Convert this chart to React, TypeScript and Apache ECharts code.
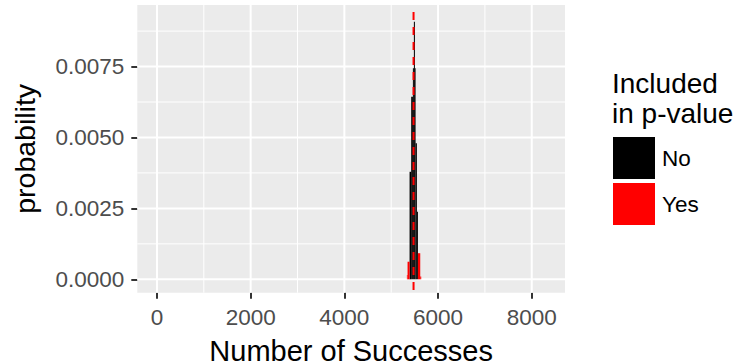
import React, { useEffect, useRef } from "react";
import * as echarts from "echarts";

// Visible bins of the null distribution (number of successes)
const binStart = [5335, 5349, 5392, 5427, 5463, 5484, 5506, 5520, 5548, 5570, 5620];
const binEnd = [5349, 5392, 5427, 5463, 5484, 5506, 5520, 5548, 5570, 5620, 5641];
const probability = [0.00015, 0.00062, 0.00379, 0.00644, 0.00744, 0.00908, 0.00744, 0.0048, 0.00238, 0.00092, 0.0001];
const includedInPValue = ["Yes", "Yes", "No", "No", "No", "No", "No", "No", "No", "Yes", "Yes"];
const referenceLine = 5477;

const xTicks = [0, 2000, 4000, 6000, 8000];
const xMinorTicks = [1000, 3000, 5000, 7000];
const yTicks = [0, 0.0025, 0.005, 0.0075];
const yMinorTicks = [0.00125, 0.00375, 0.00625, 0.00875];
const legendLabels = ["No", "Yes"];
const legendColors = ["#000000", "#FF0000"];

const X_MIN = -420;
const X_MAX = 8710;
const Y_MIN = -0.000472;
const Y_MAX = 0.00967;

const FONT = '"Liberation Sans", Arial, sans-serif';

export default function App() {
  const ref = useRef<HTMLDivElement>(null);
  useEffect(() => {
    if (!ref.current) return;
    const chart = echarts.init(ref.current, undefined, { renderer: "svg" });

    const gridData: number[][] = [];
    xTicks.forEach((v) => gridData.push([v, 0, 2]));
    xMinorTicks.forEach((v) => gridData.push([v, 0, 1]));
    yTicks.forEach((v) => gridData.push([v, 1, 2]));
    yMinorTicks.forEach((v) => gridData.push([v, 1, 1]));

    const barData = (label: string) =>
      binStart
        .map((s, i) => [s, binEnd[i], probability[i], includedInPValue[i] === label ? 1 : 0])
        .filter((d) => d[3] === 1)
        .map((d) => [d[0], d[1], d[2]]);

    const renderBar = (params: any, api: any) => {
      const p0 = api.coord([api.value(0), api.value(2)]);
      const p1 = api.coord([api.value(1), 0]);
      return {
        type: "rect",
        shape: { x: p0[0], y: p0[1], width: p1[0] - p0[0], height: p1[1] - p0[1] },
        style: { fill: api.visual("color") },
      };
    };

    chart.setOption({
      animation: false,
      grid: {
        left: 137.3,
        top: 5,
        width: 427.7,
        height: 287.7,
        show: true,
        backgroundColor: "#EBEBEB",
        borderWidth: 0,
        outerBoundsMode: "none",
        containLabel: false,
      },
      xAxis: {
        type: "value",
        min: X_MIN,
        max: X_MAX,
        name: "Number of Successes",
        nameLocation: "middle",
        nameGap: 46,
        nameTextStyle: { fontFamily: FONT, fontSize: 29, lineHeight: 24, color: "#000" },
        axisLine: { show: false, onZero: false },
        splitLine: { show: false },
        axisTick: { show: true, length: 6, customValues: xTicks, lineStyle: { color: "#333", width: 2 } },
        axisLabel: {
          customValues: xTicks,
          margin: 13,
          fontFamily: FONT,
          fontSize: 22.5,
          color: "#4D4D4D",
          formatter: (v: number) => String(Math.round(v)),
        },
      },
      yAxis: {
        type: "value",
        min: Y_MIN,
        max: Y_MAX,
        name: "probability",
        nameLocation: "middle",
        nameGap: 98,
        nameTextStyle: { fontFamily: FONT, fontSize: 28.5, color: "#000" },
        axisLine: { show: false, onZero: false },
        splitLine: { show: false },
        axisTick: { show: true, length: 6, customValues: yTicks, lineStyle: { color: "#333", width: 2 } },
        axisLabel: {
          customValues: yTicks,
          margin: 13,
          fontFamily: FONT,
          fontSize: 22.5,
          color: "#4D4D4D",
          formatter: (v: number) => v.toFixed(4),
        },
      },
      legend: {
        data: legendLabels.map((n) => ({ name: n, icon: "rect" })),
        orient: "vertical",
        left: 613,
        top: 137,
        itemWidth: 42,
        itemHeight: 42,
        itemGap: 4,
        padding: 0,
        selectedMode: false,
        textStyle: { fontFamily: FONT, fontSize: 22.5, color: "#000", padding: [0, 0, 0, 2] },
      },
      graphic: [
        {
          type: "text",
          left: 612,
          top: 68,
          style: { text: "Included\nin p-value", font: `28px ${FONT}`, fill: "#000", lineHeight: 30 },
        },
      ],
      series: [
        {
          type: "custom",
          name: "gridlines",
          z: 1,
          silent: true,
          data: gridData,
          encode: { x: 0 },
          renderItem: (params: any, api: any) => {
            const v = api.value(0);
            const isY = api.value(1);
            const w = api.value(2);
            const cs = params.coordSys;
            if (isY) {
              const p = api.coord([0, v]);
              return {
                type: "line",
                shape: { x1: cs.x, y1: p[1], x2: cs.x + cs.width, y2: p[1] },
                style: { stroke: "#FFFFFF", lineWidth: w },
              };
            }
            const p = api.coord([v, 0]);
            return {
              type: "line",
              shape: { x1: p[0], y1: cs.y, x2: p[0], y2: cs.y + cs.height },
              style: { stroke: "#FFFFFF", lineWidth: w },
            };
          },
        },
        {
          type: "custom",
          name: legendLabels[0],
          z: 3,
          silent: true,
          itemStyle: { color: legendColors[0] },
          data: barData("No"),
          encode: { x: [0, 1], y: 2 },
          renderItem: renderBar,
        },
        {
          type: "custom",
          name: legendLabels[1],
          z: 3,
          silent: true,
          itemStyle: { color: legendColors[1] },
          data: barData("Yes"),
          encode: { x: [0, 1], y: 2 },
          renderItem: renderBar,
        },
        {
          type: "custom",
          name: "reference",
          z: 5,
          silent: true,
          data: [[referenceLine]],
          encode: { x: 0 },
          renderItem: (params: any, api: any) => {
            const cs = params.coordSys;
            const p = api.coord([api.value(0), 0]);
            return {
              type: "line",
              shape: { x1: p[0], y1: cs.y + 7, x2: p[0], y2: cs.y + cs.height },
              style: { stroke: "#FF0000", lineWidth: 2, lineDash: [8, 7] },
            };
          },
        },
      ],
    });
    return () => chart.dispose();
  }, []);
  return <div ref={ref} style={{ position: "absolute", left: 0, top: 0, width: 738, height: 364 }} />;
}
